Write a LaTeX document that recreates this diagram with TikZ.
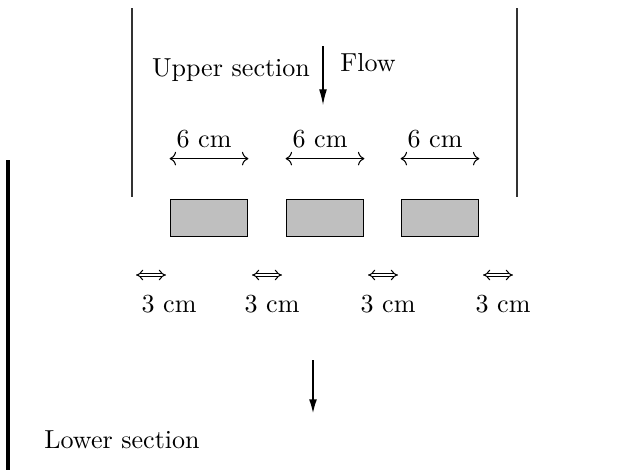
\documentclass[tikz,border=0pt]{standalone}
\usetikzlibrary{arrows.meta}
\begin{document}
\begin{tikzpicture}[x=0.0135cm,y=-0.0135cm,
    plate/.style={draw,fill=black!25,minimum width=1.05cm,minimum height=0.51cm,inner sep=0pt},
    gaparrow/.style={double,double distance=1pt,{Implies}-{Implies}},
    flowarrow/.style={-{Latex[length=6pt,width=3pt]}}]
    \useasboundingbox (0,0) rectangle (639,470);
    % channel walls
    \draw[black!80] (132,8) -- (132,197);
    \draw[black!80] (517,8) -- (517,197);
    \draw[line width=1.3pt] (8,160) -- (8,470);
    \coordinate (flowtop) at (323,46);
    \coordinate (flowbot) at (323,105);
    \draw[flowarrow] (flowtop) -- (flowbot);
    \node (upper) at (231,70) {Upper section};
    \node (flow) at (368,63) {Flow};
    \foreach \x/\n in {209/1, 325/2, 440/3} {
        \node[plate] (plate\n) at (\x,218) {};
        \draw[<->] ([yshift=0.54cm]plate\n.north west) -- ([yshift=0.54cm]plate\n.north east);
        \node (wide\n) at (\x-5,139) {6 cm};
    }
    \foreach \x/\lx/\n in {151/169/1, 267/272/2, 383/388/3, 498/503/4} {
        \coordinate (gapl\n) at (\x-15,275);
        \coordinate (gapr\n) at (\x+15,275);
        \draw[gaparrow] (gapl\n) -- (gapr\n);
        \node (gap\n) at (\lx,304) {3 cm};
    }
    \coordinate (outtop) at (313,360);
    \coordinate (outbot) at (313,415);
    \draw[flowarrow,line width=1pt] (outtop) -- (outbot);
    \node (lower) at (122,440) {Lower section};
\end{tikzpicture}
\end{document}
